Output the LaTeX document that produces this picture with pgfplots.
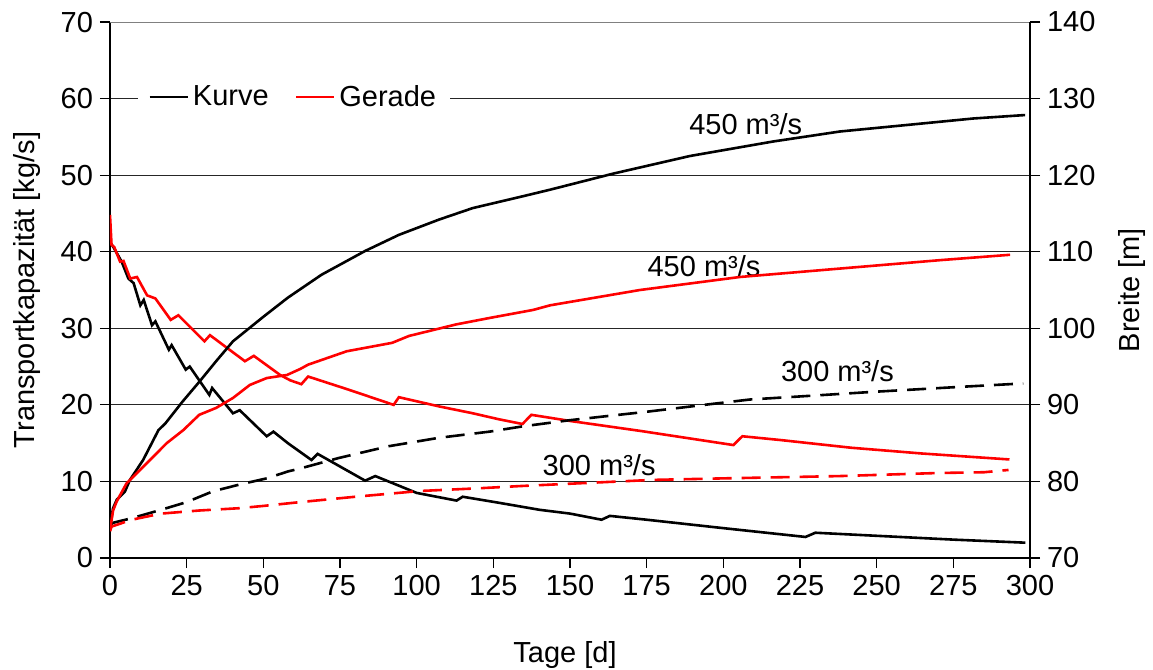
\documentclass[border=0pt]{standalone}
\usepackage{pgfplots}
\pgfplotsset{compat=1.18}
\usepackage{pgfplotstable}
\usepackage{fontspec}
\setmainfont{Liberation Sans}

\pgfplotstableread{
x y
0 41.3
1.4 40.4
3.8 38.7
6 36.5
7.7 35.9
9.9 33.0
11 33.7
13.7 30.4
14.8 30.9
19.2 27.2
20.1 27.8
24.7 24.6
26 25.0
32.4 21.3
33.3 22.2
40.1 18.9
42.3 19.3
51.1 15.9
53.3 16.5
58 15.0
65.7 12.8
67.7 13.6
83.2 10.1
86.5 10.7
100 8.5
113 7.5
115 8.0
127 7.2
140 6.3
150 5.8
160.3 5.0
163 5.5
175 5.0
200 3.9
226.8 2.75
230 3.3
250 2.9
275 2.4
298.5 2.0
}\kurveTK

\pgfplotstableread{
x y
0 44.8
0.5 40.9
1.4 40.6
3.3 38.7
4.4 38.8
6.6 36.5
8.8 36.7
12.1 34.3
14.8 33.9
19.8 31.1
22.3 31.7
30.8 28.3
32.6 29.1
44 25.7
46.9 26.4
55.5 23.9
58.8 23.2
62.4 22.7
64.6 23.7
77.7 22.0
92.5 20.0
94.2 21.0
107.3 19.8
118.3 18.9
127 18.1
134.5 17.5
137.4 18.7
150 17.9
172.9 16.6
195.9 15.2
203.3 14.75
206.2 15.9
218.8 15.4
241.7 14.4
264.7 13.65
293.3 12.87
}\geradeTK

\pgfplotstableread{
x y
0 74.1
1 76.5
2.2 77.6
4.9 78.7
6.5 80.2
10.8 82.8
15.8 86.7
18.1 87.6
23.6 90.4
29.1 93.0
34.6 95.7
40.1 98.3
50 101.5
58 104.0
69 107.0
83.2 110.1
94.2 112.2
107.3 114.2
118.3 115.7
134.7 117.25
143.5 118.1
164.1 120.2
189.1 122.5
216.3 124.4
238 125.7
259.8 126.55
281.5 127.4
298.4 127.85
}\kurveBa

\pgfplotstableread{
x y
0 74.3
1 74.6
7.1 75.2
16.7 76.3
25 77.3
33.5 78.7
42.3 79.6
51.1 80.4
58 81.3
62.1 81.7
74.5 83.05
90.9 84.6
107.3 85.7
123.7 86.5
134.7 87.2
150 88.0
175 89.1
195.9 90.1
208.7 90.7
225 91.1
248.9 91.7
275 92.3
297.8 92.8
}\kurveBb

\pgfplotstableread{
x y
0 73.6
1 76.2
2.2 77.4
5.4 79.75
10.8 81.9
18.5 85.0
23.9 86.7
29.1 88.7
34.6 89.6
40.1 90.9
45.6 92.6
51.1 93.5
57.7 93.9
62.1 94.7
64.6 95.25
77.2 97.0
92 98.1
97.5 99.0
112.8 100.5
123.8 101.35
138 102.4
143.5 103.0
172.8 105.0
205.4 106.7
238 107.8
270.7 108.9
293.5 109.6
}\geradeBa

\pgfplotstableread{
x y
0 73.5
0.5 74.1
7.1 75.0
16.7 75.8
29 76.2
42 76.5
50 76.8
62 77.3
80 78.0
101 78.75
120 79.1
134 79.4
150 79.7
177 80.2
200 80.4
238 80.7
270 81.1
285 81.2
293 81.5
}\geradeBb

\begin{document}
\begin{tikzpicture}[font=\fontsize{14.5}{17}\selectfont]
\path[use as bounding box] (-55pt,-56pt) rectangle (521.5pt,279pt);
\pgfplotsset{
  common/.style={
    width=460pt, height=268pt, scale only axis,
    xmin=0, xmax=300,
    tick align=outside, major tick length=5pt,
    axis line style={black, line width=0.7pt, -},
    tick style={black, line width=0.6pt},
    /pgf/number format/assume math mode=true,
    ticklabel style={font=\fontsize{14.5}{17}\selectfont},
    label style={font=\fontsize{14.5}{17}\selectfont},
  },
  lw/.style={line width=1.3pt},
  dsh/.style={dash pattern=on 9.5pt off 5pt},
}
\begin{axis}[
  common,
  ymin=0, ymax=70,
  xtick={0,25,...,300}, ytick={0,10,...,70},
  axis x line*=bottom, axis y line*=left,
  ymajorgrids, major grid style={black!85, line width=0.5pt},
  xlabel={Tage [d]}, ylabel={Transportkapazität [kg/s]},
  xlabel style={at={(axis description cs:0.4946,-0.181)}, anchor=center},
  ylabel style={at={(axis description cs:-0.0902,0.5)}, anchor=center},
  legend style={at={(axis description cs:0.0304,0.86)}, anchor=west,
    draw=none, fill=white, inner xsep=5pt, inner ysep=1pt,
    font=\fontsize{14.5}{17}\selectfont,
    /tikz/every even column/.append style={column sep=11pt}},
  legend columns=2,
  legend image code/.code={\draw[#1] (0pt,0pt) -- (19pt,0pt);},
]
\addplot[black, lw] table {\kurveTK};
\addlegendentry{Kurve}
\addplot[red, lw] table {\geradeTK};
\addlegendentry{Gerade}
\draw[gray, line width=0.6pt] (axis cs:0,70) -- (axis cs:300,70);
\node at (axis cs:207.3,56.6) {450 m³/s};
\node at (axis cs:193.7,38.1) {450 m³/s};
\node at (axis cs:237.2,24.4) {300 m³/s};
\node at (axis cs:159.5,12.1) {300 m³/s};
\end{axis}
\begin{axis}[
  common,
  ymin=70, ymax=140,
  ytick={70,80,...,140},
  axis x line=none, axis y line*=right,
  ylabel={Breite [m]},
  ylabel style={at={(axis description cs:1.111,0.5)}, anchor=center},
]
\addplot[black, lw] table {\kurveBa};
\addplot[black, lw, dsh] table {\kurveBb};
\addplot[red, lw] table {\geradeBa};
\addplot[red, lw, dsh] table {\geradeBb};
\end{axis}
\end{tikzpicture}
\end{document}
